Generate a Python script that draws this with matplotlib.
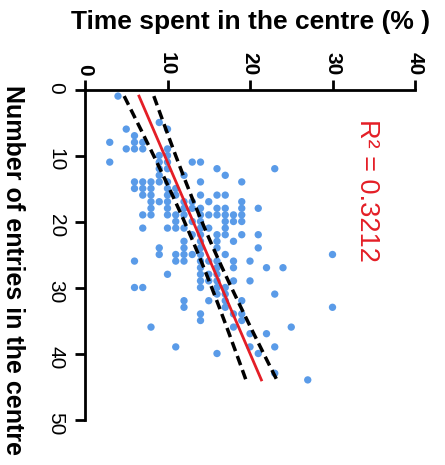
import numpy as np
import matplotlib
matplotlib.use("Agg")
import matplotlib.pyplot as plt

plt.rcParams['font.family'] = ['Liberation Sans', 'DejaVu Sans']

# ---- data ----
entries_rows = {
    1: [4],
    5: [9],
    6: [5, 10],
    7: [6],
    8: [3, 6, 7],
    9: [5, 6, 7, 10],
    10: [9, 10],
    11: [3, 9, 10, 13, 14],
    12: [9, 10, 16, 23],
    13: [9, 12, 17],
    14: [6, 7, 8, 9, 10, 14, 19],
    15: [6, 7, 8, 10, 11],
    16: [7, 8, 10, 11, 14, 16, 17],
    17: [8, 9, 10, 12, 13, 15, 19],
    18: [8, 10, 12, 13, 14, 16, 17, 19, 21],
    19: [7, 8, 10, 11, 12, 14, 15, 16, 17, 18, 19],
    20: [11, 13, 14, 17, 18, 19],
    21: [7, 10, 11, 12, 14, 15, 17],
    22: [13, 14, 16, 17, 19, 21],
    23: [12, 14, 16, 18],
    24: [9, 12, 14, 16, 21],
    25: [9, 11, 12, 13, 14, 17, 30],
    26: [6, 11, 12, 14, 15, 16, 18, 20],
    27: [14, 16, 18, 22, 24],
    28: [10, 14, 15, 16],
    29: [14, 15, 16, 18, 20],
    30: [6, 7, 14, 16, 17],
    31: [16, 17, 23],
    32: [12, 15, 17, 19],
    33: [12, 17, 30],
    34: [14, 18, 19],
    35: [14, 19],
    36: [8, 18, 25],
    37: [20, 22],
    39: [11, 20, 23],
    40: [16, 21],
    43: [23],
    44: [27],
}
entries = [n for n, ts in entries_rows.items() for _ in ts]
time_pct = [t for n, ts in entries_rows.items() for t in ts]

fit_intercept = 6.2
fit_slope = 0.345
ci_var_center = 1.1
ci_var_slope = 0.0049
r2_text = "R\u00b2 = 0.3212"

x_ticks = [0, 10, 20, 30, 40]
y_ticks = [0, 10, 20, 30, 40, 50]

# ---- figure ----
W, H = 445, 465
fig = plt.figure(figsize=(W / 100, H / 100), dpi=100)
left_px, right_px, top_px, bot_px = 85, 415, 89.5, 419.5
ax = fig.add_axes([left_px / W, 1 - bot_px / H, (right_px - left_px) / W, (bot_px - top_px) / H])

entries = np.array(entries, float)
time_pct = np.array(time_pct, float)
ax.scatter(time_pct, entries, s=28, color='#5a9be8', edgecolors='none', zorder=2, clip_on=False)

nn = np.linspace(entries.min(), entries.max(), 200)
fit = fit_intercept + fit_slope * nn
nbar = entries.mean()
hw = np.sqrt(ci_var_center + ci_var_slope * (nn - nbar) ** 2)
ax.plot(fit, nn, color='#e41e26', lw=2.0, zorder=3)
for sgn in (-1, 1):
    ax.plot(fit + sgn * hw, nn, color='black', lw=2.5, ls=(0, (2.8, 1.5)), zorder=4)

ax.set_xlim(0, 40)
ax.set_ylim(50, 0)
ax.xaxis.tick_top()
ax.set_xticks(x_ticks)
ax.set_yticks(y_ticks)
for s in ('bottom', 'right'):
    ax.spines[s].set_visible(False)
for s in ('top', 'left'):
    ax.spines[s].set_linewidth(2)
ax.tick_params(axis='both', direction='out', length=7, width=2, labelsize=15, color='black')
ax.tick_params(axis='x', pad=3)
ax.tick_params(axis='y', pad=7)
for lab in ax.get_xticklabels():
    lab.set_rotation(-90)
    lab.set_fontweight('bold')
for lab in ax.get_yticklabels():
    lab.set_rotation(-90)

fig.text(251 / W, 1 - 22 / H, "Time spent in the centre (% )", ha='center', va='center',
         fontsize=19, fontweight='bold')
fig.text(13 / W, 1 - 270 / H, "Number of entries in the centre", ha='center', va='center',
         rotation=-90, fontsize=18, fontweight='bold')
fig.text(367 / W, 1 - 190 / H, r2_text, ha='center', va='center', rotation=-90,
         fontsize=19.5, color='#e41e26')

fig.savefig("out.png", dpi=100)
